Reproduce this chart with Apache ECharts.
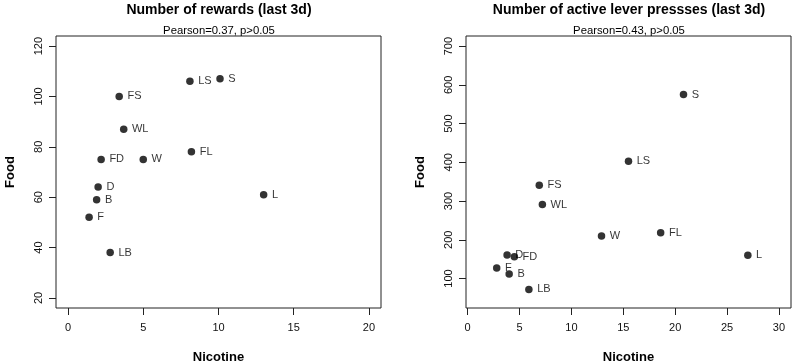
<!DOCTYPE html>
<html>
<head>
<meta charset="utf-8">
<script src="https://cdn.jsdelivr.net/npm/echarts@6/dist/echarts.min.js"></script>
<style>
  html, body { margin: 0; padding: 0; background: #fff; }
  #chart { width: 795px; height: 364px; }
</style>
</head>
<body>
<div id="chart"></div>
<script>
// subjects, same order in both panels
const subjects = ['LS', 'S', 'FS', 'WL', 'FD', 'W', 'FL', 'D', 'B', 'F', 'LB', 'L'];

// left panel: number of rewards (last 3d)
const rewardNicotine = [8.1, 10.1, 3.4, 3.7, 2.2, 5.0, 8.2, 2.0, 1.9, 1.4, 2.8, 13.0];
const rewardFood = [106, 107, 100, 87, 75, 75, 78, 64, 59, 52, 38, 61];
const rewardXTicks = [0, 5, 10, 15, 20];
const rewardYTicks = [20, 40, 60, 80, 100, 120];

// right panel: number of active lever presses (last 3d)
const leverNicotine = [15.5, 20.8, 6.9, 7.2, 4.5, 12.9, 18.6, 3.8, 4.0, 2.8, 5.9, 27.0];
const leverFood = [403, 575, 341, 291, 156, 210, 218, 161, 112, 127, 72, 160];
const leverXTicks = [0, 5, 10, 15, 20, 25, 30];
const leverYTicks = [100, 200, 300, 400, 500, 600, 700];

const titles = ['Number of rewards (last 3d)', 'Number of active lever pressses (last 3d)'];
const subtitles = ['Pearson=0.37, p>0.05', 'Pearson=0.43, p>0.05'];

const FONT = "'Liberation Sans', Arial, Helvetica, sans-serif";

const chart = echarts.init(document.getElementById('chart'));

const makePoints = (xs, ys) => xs.map((x, i) => ({ value: [x, ys[i]], name: subjects[i] }));

const xAxisOf = (idx, min, max, ticks) => ({
    gridIndex: idx,
    type: 'value',
    min, max,
    name: 'Nicotine',
    nameLocation: 'middle',
    nameGap: 43,
    nameTextStyle: { fontFamily: FONT, fontSize: 13, fontWeight: 'bold', color: '#000' },
    axisLine: { show: false, onZero: false },
    axisTick: { show: true, inside: false, length: 7, customValues: ticks, lineStyle: { color: '#222' } },
    axisLabel: { customValues: ticks, margin: 14, fontFamily: FONT, fontSize: 11, color: '#111' },
    splitLine: { show: false }
});

const yAxisOf = (idx, min, max, ticks) => ({
    gridIndex: idx,
    type: 'value',
    min, max,
    name: 'Food',
    nameLocation: 'middle',
    nameRotate: 90,
    nameGap: 39,
    nameTextStyle: { fontFamily: FONT, fontSize: 13, fontWeight: 'bold', color: '#000' },
    axisLine: { show: false, onZero: false },
    axisTick: { show: true, inside: false, length: 7, customValues: ticks, lineStyle: { color: '#222' } },
    axisLabel: { customValues: ticks, rotate: 90, margin: 12, fontFamily: FONT, fontSize: 11, color: '#111' },
    splitLine: { show: false }
});

const seriesOf = (idx, data) => ({
    type: 'scatter',
    xAxisIndex: idx,
    yAxisIndex: idx,
    data,
    symbol: 'circle',
    symbolSize: 7.5,
    itemStyle: { color: '#000' },
    label: {
        show: true,
        position: 'right',
        distance: 4.5,
        formatter: p => p.name,
        fontFamily: FONT,
        fontSize: 11,
        color: '#000'
    },
    emphasis: { disabled: true }
});

const centers = [219, 629];

const gridBase = {
    top: 36, width: 325, height: 272,
    show: true, borderColor: '#222', borderWidth: 1, backgroundColor: 'transparent',
    containLabel: false, outerBoundsMode: 'none'
};

const option = {
    backgroundColor: '#fff',
    animation: false,
    title: [
        ...titles.map((t, i) => ({
            text: t, left: centers[i], top: 3, textAlign: 'center', padding: 0,
            textStyle: { fontFamily: FONT, fontSize: 14, fontWeight: 'bold', color: '#000' }
        })),
        ...subtitles.map((t, i) => ({
            text: t, left: centers[i], top: 25, textAlign: 'center', padding: 0,
            textStyle: { fontFamily: FONT, fontSize: 11.3, fontWeight: 'normal', color: '#000' }
        }))
    ],
    grid: [
        { ...gridBase, left: 56 },
        { ...gridBase, left: 466 }
    ],
    xAxis: [
        xAxisOf(0, -0.8, 20.8, rewardXTicks),
        xAxisOf(1, -0.16, 31.16, leverXTicks)
    ],
    yAxis: [
        yAxisOf(0, 16, 124, rewardYTicks),
        yAxisOf(1, 24, 726, leverYTicks)
    ],
    series: [
        seriesOf(0, makePoints(rewardNicotine, rewardFood)),
        seriesOf(1, makePoints(leverNicotine, leverFood))
    ]
};

chart.setOption(option);
</script>
</body>
</html>
